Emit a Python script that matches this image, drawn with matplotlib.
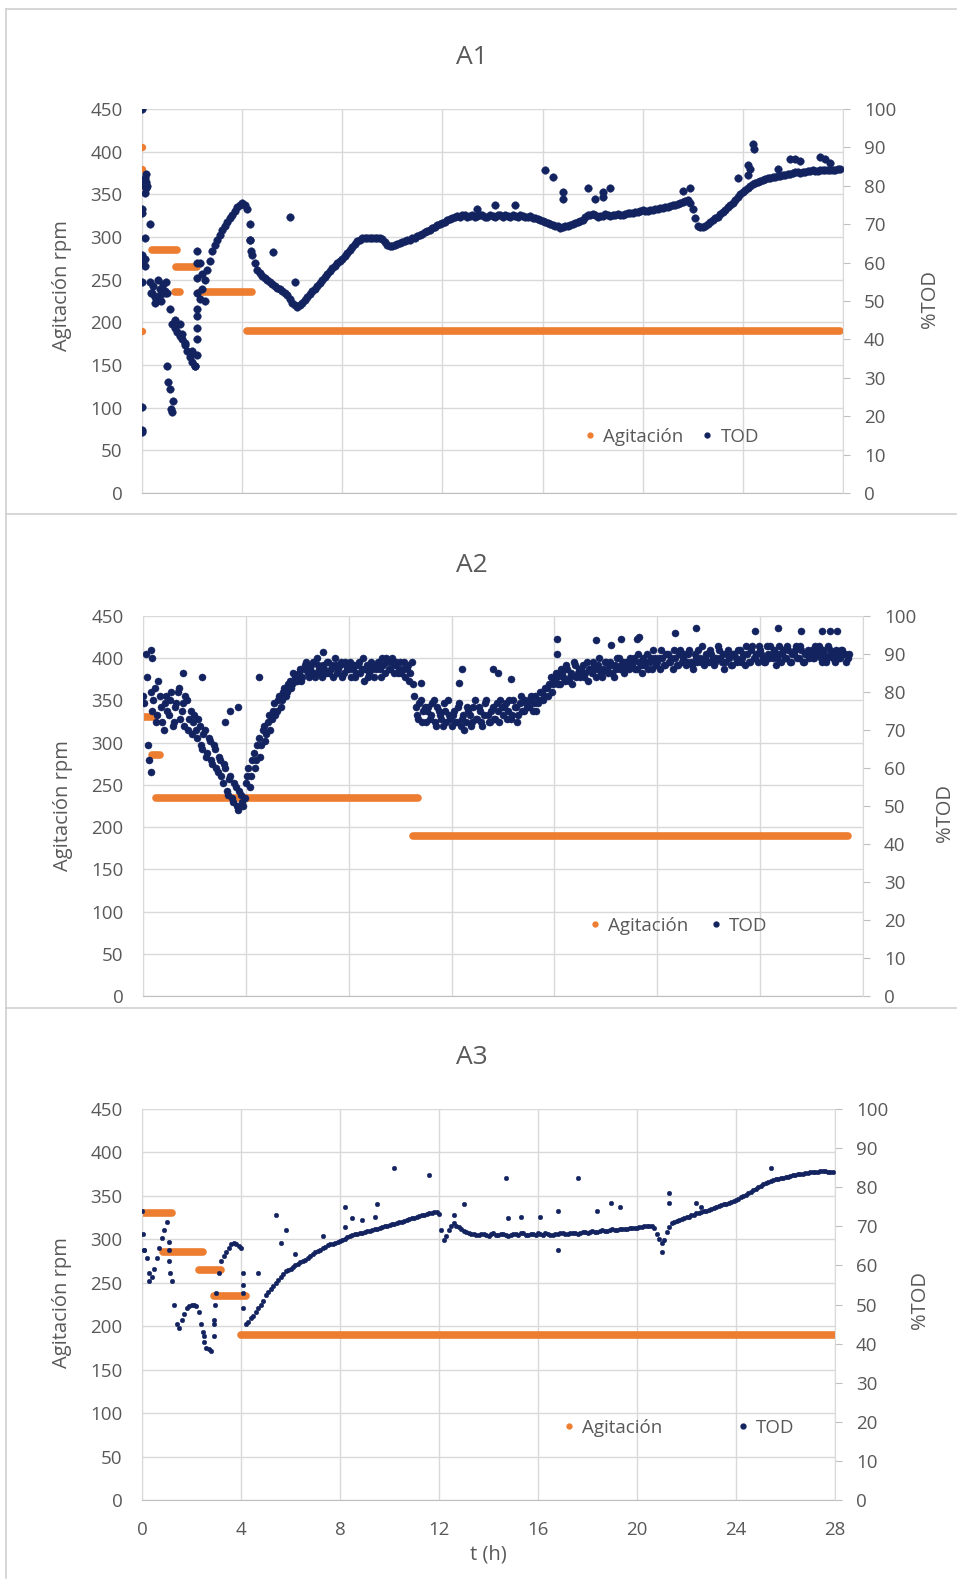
import matplotlib
matplotlib.use("Agg")
import matplotlib.pyplot as plt
from matplotlib.lines import Line2D
import numpy as np

plt.rcParams["font.family"] = ["Open Sans", "DejaVu Sans"]

W, H = 960, 1581
ORANGE = "#ED7D31"
NAVY = "#13235F"
GRID = "#D9D9D9"
TEXT = "#595959"

# Agitación set-points per run: (start h, end h, rpm)
agit_a1_steps = [(0.4, 1.4, 285), (1.3, 1.5, 235), (1.35, 2.2, 265), (2.3, 4.4, 235), (4.2, 27.9, 190)]
agit_a1_start = [405, 380, 360, 190]  # logged at t = 0
agit_a2_steps = [(0.0, 0.45, 330), (0.35, 0.65, 285), (0.5, 10.7, 235), (10.5, 27.4, 190)]
agit_a3_steps = [(0.0, 1.2, 330), (0.85, 2.45, 285), (2.3, 3.2, 265), (2.9, 4.2, 235), (4.0, 28.0, 190)]

# %TOD, A1: readings every 0.2 h, plus the intermediate reading 0.1 h later
tod_a1 = [
    60, 80, 52, 50, 53, 52, 44, 42, 40, 37,
    34, 48, 53, 58, 63, 66, 68.5, 70.5, 72.5, 74.5,
    75.5, 74, 62, 58, 56.5, 55.5, 54.5, 53.5, 52.5, 51.5,
    49.5, 48.5, 49.5, 51, 52.5, 54, 55.5, 57, 58.5, 60,
    61, 62.5, 64, 65.5, 66.4, 66.4, 66.4, 66.4, 66.2, 64.5,
    64.2, 64.8, 65.3, 65.8, 66.3, 66.8, 67.5, 68.3, 69, 69.7,
    70.3, 71, 71.6, 72.2, 72.3, 72.0, 72.4, 72.1, 72.3, 71.9,
    72.2, 72.4, 72.0, 72.2, 72.3, 71.8, 72.1, 72.0, 71.6, 71.4,
    70.8, 70.2, 69.8, 69.5, 69.3, 69.6, 70.0, 70.5, 71.2, 72.3,
    72.6, 72.0, 72.2, 72.5, 72.3, 72.6, 72.4, 72.8, 73.0, 73.2,
    73.6, 73.4, 73.8, 74.0, 74.3, 74.6, 75.0, 75.3, 75.7, 76.2,
    74, 69.5, 69.3, 70.0, 71.0, 72.0, 73.2, 74.5, 75.5, 77,
    78.5, 79.5, 80.5, 81, 81.5, 82, 82.2, 82.5, 82.8, 83.0,
    83.3, 83.6, 83.5, 83.8, 84.0, 83.8, 84.1, 84.2, 84.0, 84.3,
]
tod_a1_b = [
    81, 70, 51, 51.5, 52.5, 48, 43, 41, 38.5, 35.5,
    33, 50.5, 55.5, 60.5, 64.5, 67.3, 69.5, 71.5, 73.5, 75,
    75, 66, 60, 57.2, 56, 55, 54, 53, 52, 50.5,
    49, 49, 50.2, 51.8, 53.2, 54.8, 56.2, 57.8, 59.2, 60.5,
    61.8, 63.2, 64.8, 66, 66.4, 66.4, 66.4, 66.4, 65.3, 64.2,
    64.5, 65, 65.5, 66, 66.5, 67.2, 67.9, 68.6, 69.4, 70,
    70.6, 71.3, 71.9, 72.0, 72.5, 72.2, 71.8, 72.5, 72.0, 72.3,
    72.0, 72.3, 72.5, 71.9, 72.1, 72.4, 71.9, 72.2, 71.5, 71.1,
    70.5, 70.0, 69.6, 69.0, 69.5, 69.8, 70.2, 70.8, 71.8, 72.4,
    72.3, 72.1, 72.6, 72.2, 72.5, 72.3, 72.7, 72.9, 73.1, 73.4,
    73.5, 73.6, 73.9, 74.2, 74.5, 74.8, 75.1, 75.5, 76.0, 75.5,
    71.5, 69.2, 69.6, 70.5, 71.5, 72.6, 73.8, 75.0, 76.2, 77.8,
    79.0, 80.0, 80.7, 81.2, 81.8, 82.1, 82.4, 82.6, 82.9, 83.1,
    83.5, 83.4, 83.7, 83.9, 83.9, 84.0, 84.2, 84.1, 84.2, 84.3,
]
# A1 start-up readings and isolated spikes
tod_a1_extra_t = [
    0, 0, 0, 0, 0, 0, 0, 0, 0,
    0.1, 0.1, 0.1, 0.1, 0.1, 0.1, 0.15, 0.15, 0.15,
    0.3, 0.35, 0.45, 0.5, 0.55, 0.65, 0.7, 0.75, 0.85, 0.9, 0.95,
    1.0, 1.05, 1.1, 1.15, 1.2, 1.25,
    1.3, 1.5, 1.6, 1.7, 1.9, 2.0, 2.1,
    2.2, 2.2, 2.2, 2.2, 2.2, 2.2, 2.2, 2.2, 2.3, 2.4, 2.5,
    4.3, 4.3, 4.35,
    5.9, 5.25, 6.1, 13.4, 14.1, 14.9, 16.1, 16.4, 16.8, 16.8, 17.8, 18.1, 18.4, 18.4, 18.7,
    21.6, 21.9, 23.8, 24.2, 24.2, 24.3, 24.4, 24.45, 25.4, 25.9, 26.1, 26.3, 27.1, 27.3, 27.5,
]
tod_a1_extra_v = [
    100, 16.5, 16, 22.5, 73, 74, 60, 55, 62,
    82, 80, 78, 66.5, 61, 59, 83, 81, 79.5,
    55, 52, 54, 49.5, 51, 55.5, 53, 50, 54.5, 52, 55,
    33, 29, 27, 22, 21, 24,
    45, 44, 41.5, 39, 36.5, 37, 33,
    36, 40, 43, 46, 52, 56, 60, 63, 60, 57, 50,
    70, 66, 63,
    72, 62.8, 55, 74, 75, 75, 84, 82.4, 78.5, 76.5, 79.5, 76.5, 77, 78.5, 79.5,
    78.6, 79.5, 82, 85.4, 82.8, 84.5, 91, 89.6, 84.5, 87, 87, 86.5, 87.5, 87, 86,
]

# %TOD, A2: two probe readings every 0.1 h (second one logged 0.05 h later)
tod_a2 = [
    79, 90, 66, 80, 78, 72, 83, 76, 70, 79,
    74, 80, 72, 77, 81, 75, 71, 78, 73, 69,
    74, 68, 71, 65, 70, 64, 67, 61, 65, 59,
    62, 56, 60, 53, 58, 51, 55, 49, 53, 50,
    56, 60, 58, 64, 62, 68, 66, 71, 69, 74,
    73, 77, 75, 79, 78, 81, 80, 83, 82, 84,
    83, 86, 84, 87, 85, 86, 88, 84, 87, 85,
    87, 85, 88, 86, 84, 87, 86, 88, 85, 87,
    86, 84, 87, 85, 88, 86, 83, 87, 85, 86,
    84, 87, 86, 89, 85, 88, 86, 89, 87, 85,
    88, 86, 84, 87, 85, 82, 76, 73, 78, 75,
    72, 76, 74, 78, 71, 75, 73, 77, 72, 74,
    71, 75, 72, 77, 73, 70, 76, 74, 72, 78,
    73, 75, 71, 77, 74, 72, 76, 73, 75, 78,
    74, 77, 75, 73, 78, 76, 74, 79, 75, 77,
    76, 79, 77, 75, 78, 80, 79, 81, 82, 80,
    83, 84, 82, 85, 83, 86, 84, 82, 87, 85,
    84, 87, 85, 83, 86, 88, 84, 87, 85, 86,
    88, 85, 87, 84, 86, 89, 87, 85, 88, 86,
    87, 89, 86, 88, 85, 87, 90, 88, 86, 89,
    88, 86, 89, 87, 90, 88, 86, 89, 87, 91,
    89, 87, 90, 88, 86, 89, 91, 88, 87, 90,
    88, 90, 87, 89, 91, 88, 86, 90, 89, 87,
    90, 88, 91, 89, 87, 90, 88, 92, 89, 88,
    91, 89, 88, 90, 92, 89, 87, 90, 88, 91,
    89, 91, 88, 90, 92, 89, 91, 88, 90, 89,
    91, 89, 90, 92, 88, 90, 89, 91, 90, 88,
    90, 89, 91, 90, 89,
]
tod_a2_b = [
    77, 84, 62, 75, 81, 74, 79, 72, 77, 75,
    78, 71, 76, 80, 73, 77, 79, 70, 75, 72,
    70, 73, 66, 69, 63, 68, 62, 66, 60, 63,
    58, 61, 54, 57, 52, 56, 50, 54, 51, 52,
    58, 55, 62, 60, 66, 63, 70, 67, 72, 70,
    75, 74, 78, 76, 80, 79, 82, 81, 85, 83,
    85, 83, 86, 88, 84, 87, 85, 89, 86, 84,
    86, 88, 85, 87, 89, 85, 87, 84, 88, 86,
    88, 86, 84, 87, 85, 89, 86, 84, 88, 87,
    86, 88, 84, 87, 89, 86, 88, 85, 88, 86,
    85, 88, 86, 83, 88, 79, 74, 77, 72, 76,
    75, 73, 77, 72, 76, 74, 71, 75, 78, 73,
    74, 72, 76, 71, 74, 72, 75, 71, 76, 73,
    76, 72, 74, 78, 72, 75, 73, 77, 72, 76,
    76, 73, 78, 74, 76, 72, 77, 75, 78, 76,
    78, 75, 79, 77, 80, 78, 81, 79, 84, 82,
    85, 82, 86, 84, 87, 83, 85, 88, 84, 86,
    86, 84, 88, 86, 85, 87, 86, 89, 84, 88,
    86, 88, 85, 87, 89, 86, 88, 86, 87, 89,
    88, 86, 90, 87, 89, 88, 86, 89, 91, 87,
    89, 91, 87, 90, 88, 89, 91, 87, 90, 88,
    90, 88, 91, 87, 90, 88, 89, 92, 89, 88,
    91, 89, 88, 92, 89, 90, 88, 91, 87, 90,
    89, 91, 88, 90, 92, 88, 91, 89, 90, 92,
    90, 88, 92, 89, 90, 91, 89, 92, 90, 89,
    92, 88, 90, 91, 89, 92, 88, 90, 91, 90,
    89, 92, 91, 89, 91, 88, 92, 90, 89, 91,
    89, 91, 90, 88, 90,
]
tod_a2_extra_t = [
    0.3, 0.35, 0.3, 1.56, 2.28, 3.2, 3.4, 3.7, 4.5, 7.0,
    10.8, 12.3, 12.4, 13.6, 13.8, 14.3, 16.1, 16.1, 17.6, 18.2, 18.6, 19.2, 19.3,
    20.7, 21.5, 23.8, 24.7, 25.6, 26.4, 26.7, 27.0,
]
tod_a2_extra_v = [
    91, 89, 59, 85, 84, 72, 75, 76, 84, 90.6,
    82.5, 82.5, 86, 86, 85, 83.5, 94, 90, 93.6, 92.5, 94, 94, 94.6,
    95.5, 96.8, 96, 96.8, 96, 96, 96, 96,
]

# %TOD, A3: readings every 0.2 h, plus the intermediate reading 0.1 h later
tod_a3 = [
    74, 62, 57, 62, 67, 71, 56, 45, 46, 49,
    50, 49.5, 45, 39, 38, 53, 61, 63.5, 65.5, 65.5,
    64.5, 45, 46.5, 48, 50, 52.5, 54, 55.5, 57, 58.5,
    59, 60, 60.8, 61.5, 62.5, 63.3, 64, 64.8, 65.4, 65.8,
    66.2, 66.8, 67.5, 68.0, 68.3, 68.6, 68.9, 69.2, 69.6, 70,
    70.4, 70.7, 71.0, 71.4, 71.8, 72.2, 72.6, 73.0, 73.3, 73.6,
    73.2, 66.5, 69, 70.8, 69.8, 68.8, 68.2, 68.0, 67.8, 68.0,
    67.6, 68.2, 67.8, 68.0, 67.5, 68.1, 67.9, 68.3, 67.7, 68.0,
    68.2, 67.8, 68.1, 67.9, 68.0, 68.3, 68.1, 68.4, 68.0, 68.6,
    68.3, 68.8, 68.5, 69.0, 68.7, 69.2, 69.0, 69.4, 69.2, 69.6,
    69.5, 69.9, 70.0, 70.2, 68, 65.8, 68.5, 70.8, 71.3, 71.8,
    72.3, 72.8, 73.3, 73.6, 74.0, 74.5, 75.0, 75.4, 75.8, 76.2,
    76.8, 77.4, 78.0, 78.8, 79.6, 80.4, 81.0, 81.6, 82.0, 82.3,
    82.6, 82.9, 83.2, 83.4, 83.6, 83.8, 84.0, 84.1, 84.1, 84.0,
]
tod_a3_b = [
    64, 56, 59, 64.5, 69, 64, 50, 44, 47.5, 49.5,
    50, 48, 42, 38.5, 45, 58, 62.5, 64.5, 65.8, 65,
    55, 45.5, 47, 49, 51, 53.2, 54.8, 56.2, 57.8, 58.8,
    59.5, 60.4, 61.1, 62, 62.9, 63.6, 64.4, 65.1, 65.6, 66,
    66.5, 67.2, 67.8, 68.1, 68.4, 68.7, 69.0, 69.4, 69.8, 70.2,
    70.5, 70.9, 71.2, 71.6, 72.0, 72.4, 72.8, 73.1, 73.4, 73.7,
    69, 67.5, 70, 70.2, 69.3, 68.5, 68.1, 67.9, 68.1, 67.8,
    68.0, 67.9, 68.1, 67.7, 67.8, 68.0, 68.2, 67.9, 68.1, 67.8,
    68.0, 68.2, 67.9, 68.1, 68.2, 68.0, 68.3, 68.2, 68.4, 68.5,
    68.6, 68.6, 68.9, 68.8, 69.0, 69.1, 69.3, 69.3, 69.5, 69.6,
    69.8, 70.0, 70.1, 69.5, 66.8, 66.5, 69.8, 71.0, 71.5, 72.0,
    72.5, 73.0, 73.5, 73.8, 74.2, 74.7, 75.2, 75.6, 76.0, 76.5,
    77.1, 77.7, 78.4, 79.2, 80.0, 80.7, 81.3, 81.8, 82.1, 82.4,
    82.7, 83.0, 83.3, 83.5, 83.7, 83.9, 84.0, 84.1, 84.0, 84.0,
]
tod_a3_extra_t = [
    0.05, 0.1, 0.3, 1.1, 1.1, 1.15, 2.45, 2.5, 2.9, 2.9, 2.95, 4.1, 4.1, 4.1,
    4.7, 5.4, 5.6, 5.8, 6.2, 7.3, 8.2, 8.2, 8.5, 8.9, 9.4, 9.5, 10.2, 11.6,
    12.6, 13.0, 14.7, 14.8, 15.3, 16.1, 16.8, 16.8, 17.6, 18.4, 18.95, 19.3,
    21.0, 21.3, 21.3, 22.4, 22.6, 25.4,
]
tod_a3_extra_v = [
    68, 64, 58, 66, 61, 58, 43, 40.5, 42, 46, 50, 58, 53, 49,
    58, 72.9, 65.7, 69, 63, 67.5, 75, 69.7, 72, 71.6, 72.5, 75.7, 85, 83,
    73, 75.7, 82.3, 72, 72.5, 72.5, 63.9, 74, 82.3, 74, 76, 75,
    63.5, 78.6, 76, 76, 75, 85,
]

panels = [
    dict(title="A1", box=(9, 514), axes=(142, 109, 843, 493), title_xy=(472, 58),
         steps=agit_a1_steps, start=agit_a1_start,
         series=[(np.arange(len(tod_a1)) * 0.2, tod_a1),
                 (np.arange(len(tod_a1_b)) * 0.2 + 0.1, tod_a1_b),
                 (tod_a1_extra_t, tod_a1_extra_v)],
         size=30, show_x=False, ylab=(62, 286), rlab=(930, 299), leg=(584, 437), colsp=1.0),
    dict(title="A2", box=(514, 1008), axes=(143, 616, 863, 996), title_xy=(472, 565),
         steps=agit_a2_steps, start=[],
         series=[(np.arange(len(tod_a2)) * 0.1, tod_a2),
                 (np.arange(len(tod_a2_b)) * 0.1 + 0.05, tod_a2_b),
                 (tod_a2_extra_t, tod_a2_extra_v)],
         size=26, show_x=False, ylab=(63, 806), rlab=(945, 813), leg=(589, 926), colsp=1.2),
    dict(title="A3", box=(1008, 1578), axes=(142, 1109, 835, 1500), title_xy=(472, 1057),
         steps=agit_a3_steps, start=[],
         series=[(np.arange(len(tod_a3)) * 0.2, tod_a3),
                 (np.arange(len(tod_a3_b)) * 0.2 + 0.1, tod_a3_b),
                 (tod_a3_extra_t, tod_a3_extra_v)],
         size=11, show_x=True, ylab=(62, 1303), rlab=(920, 1300), leg=(563, 1428), colsp=4.0),
]

fig = plt.figure(figsize=(W / 100, H / 100), dpi=100)
fig.patch.set_facecolor("white")


def fx(x):
    return x / W


def fy(y):
    return 1 - y / H


for p in panels:
    top, bottom = p["box"]
    # chart frame
    fig.add_artist(Line2D([fx(6), fx(956)], [fy(top), fy(top)], color="#D0D0D0", lw=1.2))
    fig.add_artist(Line2D([fx(6), fx(6)], [fy(top), fy(bottom)], color="#D0D0D0", lw=1.2))

    x0, y0, x1, y1 = p["axes"]
    ax = fig.add_axes([fx(x0), fy(y1), (x1 - x0) / W, (y1 - y0) / H])
    ax2 = ax.twinx()

    ax.set_xlim(0, 28)
    ax.set_ylim(0, 450)
    ax.set_xticks(np.arange(0, 29, 4))
    ax.set_yticks(np.arange(0, 451, 50))
    ax.grid(True, color=GRID, lw=1.0)
    ax.set_axisbelow(True)
    ax.tick_params(axis="y", length=0, pad=14, labelsize=13.5, labelcolor=TEXT)
    ax.tick_params(axis="x", length=0, pad=15, labelsize=13.5, labelcolor=TEXT,
                   labelbottom=p["show_x"])
    for side in ("top", "right"):
        ax.spines[side].set_visible(False)
    ax.spines["left"].set_color(GRID)
    ax.spines["bottom"].set_color("#BFBFBF")

    ax2.set_ylim(0, 100)
    ax2.set_yticks(np.arange(0, 101, 10))
    ax2.tick_params(axis="y", length=5, color="#BFBFBF", pad=10, labelsize=13.5, labelcolor=TEXT)
    for side in ("top", "left", "bottom"):
        ax2.spines[side].set_visible(False)
    ax2.spines["right"].set_color(GRID)

    # agitation set-points
    starts = [s[0] for s in p["steps"]]
    ends = [s[1] for s in p["steps"]]
    rpm = [s[2] for s in p["steps"]]
    lc = ax.hlines(rpm, starts, ends, colors=ORANGE, linewidth=5.5)
    lc.set_capstyle("round")
    if p["start"]:
        ax.scatter(np.zeros(len(p["start"])), p["start"], s=18, color=ORANGE, zorder=3)

    # dissolved oxygen
    for t, v in p["series"]:
        ax2.scatter(t, v, s=p["size"], color=NAVY, edgecolors=NAVY, linewidths=0.3, zorder=3)

    fig.text(fx(p["title_xy"][0]), fy(p["title_xy"][1]), p["title"], ha="center", va="center",
             fontsize=19, color=TEXT)
    fig.text(fx(p["ylab"][0]), fy(p["ylab"][1]), "Agitación rpm", rotation=90, ha="center",
             va="center", fontsize=14.5, color=TEXT)
    fig.text(fx(p["rlab"][0]), fy(p["rlab"][1]), "%TOD", rotation=90, ha="center",
             va="center", fontsize=14.5, color=TEXT)

    handles = [
        Line2D([], [], ls="none", marker="o", ms=3.5, color=ORANGE),
        Line2D([], [], ls="none", marker="o", ms=3.5, color=NAVY),
    ]
    ax2.legend(handles, ["Agitación", "TOD"], loc="center left",
               bbox_to_anchor=(fx(p["leg"][0]), fy(p["leg"][1])), bbox_transform=fig.transFigure,
               ncol=2, frameon=False, fontsize=13.5, labelcolor=TEXT, handlelength=0.6,
               handletextpad=0.4, columnspacing=p["colsp"], borderpad=0, borderaxespad=0)

    if p["show_x"]:
        ax.set_xlabel("t (h)", fontsize=14.5, color=TEXT, labelpad=4)

fig.savefig("out.png", dpi=100, facecolor="white")
